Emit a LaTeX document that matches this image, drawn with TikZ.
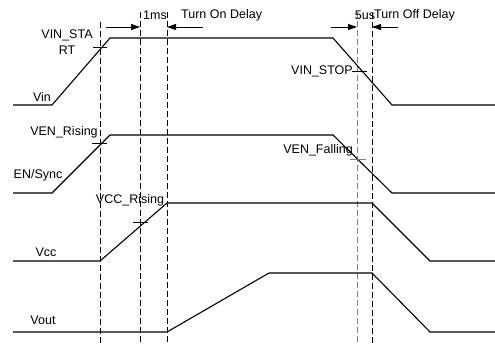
\documentclass[tikz,border=0pt]{standalone}
\usepackage{fontspec}
\setmainfont{Liberation Sans}
\usetikzlibrary{arrows.meta, positioning}

\begin{document}
\begin{tikzpicture}[
            x=1pt, y=-1pt,
            every node/.style={font=\fontsize{12.5}{16}\selectfont, inner sep=0pt},
            signal/.style={
                    draw,
                    line width=1.1pt,
                    line join=miter
                },
            marker/.style={
                    dashed,
                    line width=0.9pt,
                    dash pattern=on 6pt off 3pt
                },
            tick/.style={
                    line width=0.9pt
                },
            arrow/.style={
            -{Triangle[length=9pt,width=6pt]},
            line width=0.9pt
            }
            ]

            \useasboundingbox (0,0) rectangle (495,343);

            % Zeitmarken
            \draw [marker] (100,22) -- (100,343);
            \draw [marker] (140,12) -- (140,343);
            \draw [marker] (167,12) -- (167,343);
            \draw [marker, gray] (357,12) -- (357,343);
            \draw [marker] (372,13) -- (372,343);

            % Signale
            \draw [signal] (13,105) -- (52,105) -- (110,38) -- (333,38) -- (392,105) -- (495,105);
            \draw [signal] (13,193) -- (52,193) -- (110,135) -- (333,135) -- (392,193) -- (495,193);
            \draw [signal] (13,261) -- (100,261) -- (167,203) -- (372,203) -- (430,261) -- (495,261);
            \draw [signal] (13,332) -- (167,332) -- (269,273) -- (372,273) -- (430,332) -- (495,332);

            % Schwellen
            \draw [tick] (93,47) -- (107,47);
            \draw [tick] (92,143) -- (107,143);
            \draw [tick] (133,222) -- (148,222);
            \draw [tick] (352,71) -- (367,71);
            \draw [tick, gray] (350,159) -- (366,159);

            % Verzoegerungen
            \coordinate (onL) at (106,27);
            \coordinate (onR) at (203,27);
            \coordinate (offL) at (331,27);
            \coordinate (offR) at (398,27);
            \draw [arrow] (onL) -- (140,27);
            \draw [arrow] (onR) -- (167,27);
            \draw [arrow] (offL) -- (357,27);
            \draw [arrow] (offR) -- (372,27);

            \node (onms) at (155,15) {1ms};
            \node (ondelay) [anchor=west] at (181,15) {Turn On Delay};
            \node (offus) at (365,15) {5us};
            \node (offdelay) [anchor=west] at (374,15) {Turn Off Delay};

            % Beschriftung
            \node (vinstart) [align=center] at (67,42) {VIN\_STA\\RT};
            \node (vin) at (42,97) {Vin};
            \node (vinstop) [anchor=east] at (353,71) {VIN\_STOP};
            \node (venrise) at (64,132) {VEN\_Rising};
            \node (ensync) at (38,175) {EN/Sync};
            \node (venfall) [anchor=east] at (353,150) {VEN\_Falling};
            \node (vccrise) at (130,200) {VCC\_Rising};
            \node (vcc) at (46,252) {Vcc};
            \node (vout) at (43,320) {Vout};

        \end{tikzpicture}
\end{document}
